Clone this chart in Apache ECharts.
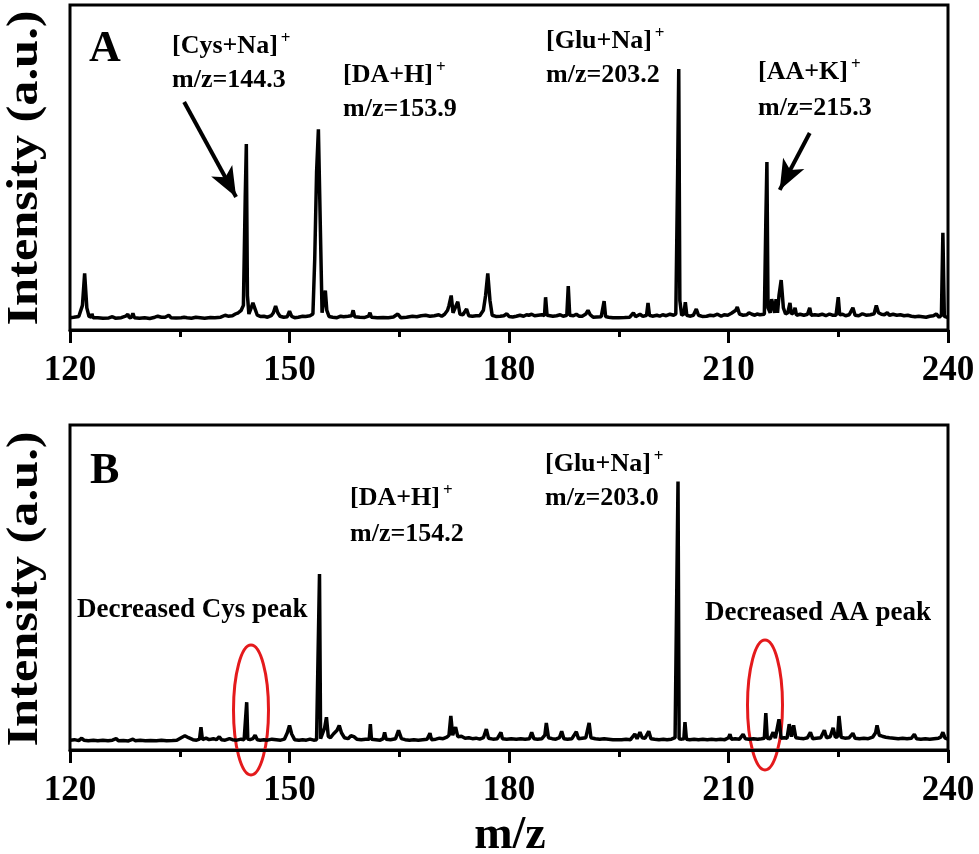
<!DOCTYPE html>
<html>
<head>
<meta charset="utf-8">
<script src="https://cdn.jsdelivr.net/npm/echarts@6/dist/echarts.min.js"></script>
<style>html,body{margin:0;padding:0;background:#fff;}#c{width:979px;height:854px;}</style>
</head>
<body>
<div id="c"></div>
<script>
// m/z tick range
const xMin = 120, xMax = 240, xStep = 30;

// Panel A spectrum: [m/z, intensity (a.u.)]
const spectrumA = [
[120.0,1.0],[120.5,1.2],[121.2,1.5],[121.7,6],[122.0,19],[122.3,5],[122.6,1.5],[122.9,1.2],[123.0,2.6],[123.15,1.0],[123.8,1.0],[124.5,0.8],[125.3,0.9],[125.8,1.4],[126.2,0.8],[127.0,1.0],[127.6,1.6],[127.9,2.4],[128.1,1.0],[128.4,1.2],[128.6,2.8],[128.8,1.0],[129.5,0.8],[130.2,1.0],[130.9,0.7],[131.6,1.2],[132.0,1.6],[132.5,1.2],[133.0,1.2],[133.5,2.0],[133.8,1.0],[134.5,0.9],[135.2,1.0],[135.6,1.2],[136.0,1.0],[136.6,0.8],[137.2,1.2],[137.8,1.0],[138.4,0.8],[139.2,1.1],[139.8,1.0],[140.6,1.2],[141.2,2.0],[141.6,1.6],[142.2,1.8],[142.6,2.5],[143.0,3],[143.4,4],[143.7,6],[143.95,50],[144.1,71.5],[144.25,10],[144.45,2.5],[144.7,4.5],[145.0,7],[145.3,4.5],[145.6,2],[146.0,1.5],[146.5,1.6],[147.0,1.2],[147.5,1.8],[147.8,3],[148.1,5.7],[148.4,3],[148.7,1.6],[149.2,1.2],[149.7,1.4],[150.0,3.7],[150.3,1.5],[150.7,1.0],[151.2,1.2],[151.8,1.6],[152.2,1.5],[152.8,1.8],[153.2,2.5],[153.45,25],[153.7,60],[153.95,77.5],[154.2,40],[154.45,3],[154.7,8],[154.9,12],[155.1,4],[155.4,1.5],[155.9,1.2],[156.5,1.0],[157.0,1.6],[157.4,1.4],[158.0,1.6],[158.5,1.8],[158.7,4],[158.9,1.4],[159.6,1.2],[160.3,1.1],[160.8,1.6],[161.0,3],[161.2,1.2],[162.0,1.0],[162.8,1.1],[163.5,1.0],[164.2,1.3],[164.8,2.5],[165.2,1.0],[166.0,1.2],[166.8,1.6],[167.4,1.4],[168.0,1.8],[168.6,2.0],[169.2,1.6],[169.8,1.8],[170.4,2.2],[170.8,1.6],[171.2,2.4],[171.6,4],[171.8,6],[172.1,10],[172.35,3],[172.6,3.5],[173.0,7.5],[173.3,2.4],[173.7,2.2],[174.2,4.5],[174.5,1.8],[175.0,1.6],[175.5,1.8],[176.0,1.8],[176.5,4],[176.8,10],[177.1,19],[177.4,8],[177.7,2],[178.2,1.5],[178.8,1.6],[179.3,1.8],[179.7,2.6],[180.0,1.5],[180.5,1.3],[181.0,1.6],[181.5,2.0],[182.0,1.6],[182.4,2.2],[182.7,2.0],[183.1,2.4],[183.5,1.8],[184.0,2.0],[184.5,2.2],[184.85,1.8],[185.0,9.3],[185.2,2.0],[185.6,1.8],[186.0,1.6],[186.5,1.8],[187.0,2.2],[187.4,1.6],[187.9,2.0],[188.1,13.8],[188.3,2.0],[188.8,1.8],[189.2,2.4],[189.6,1.6],[190.0,1.6],[190.5,2.5],[190.8,4],[191.1,2.2],[191.5,1.2],[192.0,1.3],[192.6,1.4],[193.0,7.7],[193.2,1.5],[193.6,1.2],[194.2,1.0],[195.0,1.0],[195.8,1.1],[196.5,1.2],[197.0,3],[197.3,1.4],[197.9,2.4],[198.3,1.5],[198.8,2.0],[199.0,7],[199.2,2.0],[199.6,1.6],[200.2,2.0],[200.6,1.6],[201.0,2.2],[201.5,1.8],[202.0,2.4],[202.5,2.0],[202.8,2.5],[203.05,60],[203.2,102],[203.35,8],[203.6,2.0],[203.9,2.5],[204.1,7.3],[204.3,2.0],[204.7,1.6],[205.2,2.0],[205.6,4.5],[205.9,2.0],[206.4,1.5],[207.0,1.6],[207.5,2.0],[208.0,1.8],[208.5,2.4],[209.0,1.6],[209.4,2.2],[209.9,2.0],[210.4,2.8],[211.0,4],[211.2,5.3],[211.5,2.5],[212.0,2.0],[212.5,2.2],[212.8,3],[213.2,2.4],[213.6,2.0],[213.9,2.5],[214.3,2.2],[214.9,2.4],[215.1,40],[215.25,64.2],[215.4,5],[215.7,3],[215.9,8.5],[216.1,8.5],[216.3,3],[216.5,8.5],[216.7,3],[216.9,10],[217.2,16.3],[217.5,5],[217.8,2.5],[218.1,3],[218.4,7],[218.6,2.5],[218.9,3],[219.1,5],[219.3,2.0],[219.8,2.4],[220.3,2.0],[220.8,2.4],[221.1,5],[221.3,2.0],[221.8,2.2],[222.3,2.0],[222.8,2.4],[223.3,1.8],[223.8,2.5],[224.2,2.0],[224.7,2.0],[225.0,9.3],[225.2,2.2],[225.6,2.4],[226.0,1.8],[226.5,2.2],[227.0,5],[227.3,2.0],[227.8,1.8],[228.3,2.6],[228.8,2.0],[229.4,2.2],[229.9,2.6],[230.2,6],[230.5,3],[230.9,2.4],[231.3,2.2],[231.7,3],[232.0,2.0],[232.5,2.4],[233.0,2.0],[233.5,2.2],[234.0,1.8],[234.5,2.0],[235.0,1.6],[235.5,1.4],[236.0,1.6],[236.5,1.4],[237.0,1.2],[237.5,1.6],[238.0,1.8],[238.4,2.5],[238.8,1.2],[239.1,2],[239.3,35.5],[239.5,1.5],[240.0,1.0]
];

// Panel B spectrum: [m/z, intensity (a.u.)]
const spectrumB = [
[120.0,1.0],[120.6,1.2],[121.2,0.8],[121.6,1.8],[121.9,1.0],[122.5,0.8],[123.2,1.0],[123.8,0.8],[124.5,1.0],[125.2,0.8],[125.8,1.0],[126.3,1.6],[126.6,0.8],[127.3,0.9],[128.0,0.7],[128.6,1.4],[128.9,0.8],[129.6,1.0],[130.3,0.8],[131.0,0.9],[131.8,0.8],[132.5,1.0],[133.2,0.8],[134.0,0.9],[134.6,1.0],[135.2,2.0],[135.7,2.8],[136.2,2.0],[136.8,1.2],[137.3,1.0],[137.7,1.4],[137.9,6.3],[138.1,1.2],[138.6,1.8],[139.0,1.2],[139.6,1.6],[140.0,1.2],[140.4,2.4],[140.7,1.2],[141.2,1.0],[141.8,1.6],[142.2,1.2],[142.8,1.0],[143.4,1.4],[143.8,1.2],[144.0,1.6],[144.15,16.4],[144.3,1.4],[144.6,1.2],[145.0,1.6],[145.3,3],[145.6,1.2],[146.0,1.0],[146.5,1.2],[147.0,1.0],[147.6,1.4],[148.2,1.2],[148.8,1.0],[149.3,1.4],[149.7,4],[150.0,7],[150.3,3.5],[150.7,1.2],[151.3,1.0],[151.8,1.2],[152.3,1.0],[152.8,1.4],[153.3,1.0],[153.7,1.2],[153.95,1.4],[154.1,68.5],[154.25,1.6],[154.5,2.4],[154.8,6],[155.05,10.3],[155.3,2.5],[155.6,2.0],[156.0,3.5],[156.5,5],[156.8,7],[157.1,4],[157.5,2.0],[158.0,1.6],[158.4,2.8],[158.8,2.4],[159.2,1.4],[159.8,1.2],[160.4,1.4],[160.9,1.4],[161.05,7.5],[161.2,1.4],[161.8,1.2],[162.4,1.0],[162.8,1.6],[163.0,4.2],[163.2,1.4],[163.8,1.2],[164.5,1.6],[164.9,5],[165.3,1.6],[165.8,1.2],[166.4,1.0],[167.0,1.2],[167.6,1.0],[168.2,1.2],[168.8,1.4],[169.2,3.8],[169.4,1.2],[170.0,1.4],[170.5,1.8],[171.0,1.6],[171.5,2.2],[171.8,3],[172.05,10.8],[172.3,3],[172.7,6.3],[173.0,2.4],[173.5,2.6],[174.0,1.8],[174.5,2.0],[175.0,1.6],[175.5,1.8],[176.0,1.4],[176.5,2.0],[176.9,5.5],[177.2,1.8],[177.8,1.4],[178.4,1.6],[178.9,4.2],[179.1,1.6],[179.7,1.4],[180.3,1.6],[181.0,1.4],[181.6,1.6],[182.2,1.4],[182.8,1.6],[183.1,4.2],[183.4,1.6],[183.9,1.4],[184.5,1.6],[184.9,3],[185.1,8],[185.4,2.0],[185.9,1.6],[186.4,1.4],[186.9,2.0],[187.2,4.6],[187.5,1.6],[188.0,1.4],[188.6,1.6],[189.2,4.4],[189.5,1.6],[190.0,1.8],[190.5,2.0],[190.95,8],[191.2,2.0],[191.8,1.6],[192.4,1.4],[193.0,1.6],[193.6,1.4],[194.2,1.2],[194.8,1.2],[195.4,1.2],[196.0,1.4],[196.6,1.2],[197.2,3.5],[197.5,1.6],[197.9,4.2],[198.2,2.0],[198.6,1.8],[199.1,4.6],[199.4,1.6],[199.9,1.4],[200.5,1.2],[201.1,1.4],[201.6,1.2],[202.2,1.4],[202.7,2.0],[202.95,1.6],[203.1,106],[203.25,1.6],[203.6,1.4],[203.9,1.6],[204.05,8.3],[204.25,1.4],[204.7,1.2],[205.3,1.4],[205.9,1.2],[206.5,1.4],[207.1,1.2],[207.7,1.4],[208.3,1.2],[208.9,1.4],[209.5,1.2],[210.0,2.0],[210.2,3.4],[210.4,1.4],[210.9,1.6],[211.5,1.4],[212.0,3.4],[212.3,1.6],[212.8,1.4],[213.4,1.6],[214.0,1.4],[214.5,1.6],[214.9,1.8],[215.1,12],[215.3,1.8],[215.7,1.6],[216.1,4.2],[216.4,1.8],[216.9,9.5],[217.2,1.8],[217.6,2.0],[218.0,1.8],[218.3,7.5],[218.6,2.4],[218.9,7],[219.2,2.0],[219.7,1.8],[220.3,1.6],[220.8,2.0],[221.2,4.2],[221.5,1.6],[222.0,1.8],[222.6,2.0],[223.1,5],[223.4,2.0],[223.9,2.4],[224.3,6],[224.6,2.2],[224.9,2.4],[225.1,10.8],[225.4,2.2],[225.9,1.8],[226.5,2.0],[227.0,3.8],[227.3,1.8],[227.9,1.6],[228.5,1.8],[229.1,1.6],[229.7,2.2],[230.1,4],[230.3,7],[230.6,3],[231.0,2.6],[231.5,2.2],[232.0,2.0],[232.6,1.8],[233.2,1.6],[233.8,1.8],[234.4,1.6],[235.0,1.8],[235.4,3.4],[235.7,1.6],[236.3,1.4],[236.9,1.6],[237.5,1.4],[238.1,1.6],[238.7,1.8],[239.0,2.2],[239.3,4.2],[239.6,1.8],[240.0,1.4]
];

// Arrows in panel A (data coordinates): [from, to]
const arrowCys = [[135.6, 88.6], [142.7, 50.0]];
const arrowAA = [[221.1, 76.0], [217.0, 52.9]];

// Annotation texts
const panelLetters = ['A', 'B'];
const yTitle = 'Intensity (a.u.)';
const xTitle = 'm/z';
// ion labels: [main text, line-2 text]
const ionsA = [['[Cys+Na]', 'm/z=144.3'], ['[DA+H]', 'm/z=153.9'], ['[Glu+Na]', 'm/z=203.2'], ['[AA+K]', 'm/z=215.3']];
const ionsB = [['[DA+H]', 'm/z=154.2'], ['[Glu+Na]', 'm/z=203.0']];
const notesB = ['Decreased Cys peak', 'Decreased AA peak'];

const SERIF = '"Liberation Serif", "Times New Roman", serif';
const chart = echarts.init(document.getElementById('c'), null, {renderer: 'canvas'});

const mctx = document.createElement('canvas').getContext('2d');
function textW(text, size) {
  mctx.font = 'bold ' + size + 'px ' + SERIF;
  return mctx.measureText(text).width;
}

function xAxisCfg(gi) {
  return {
    type: 'value', gridIndex: gi, min: xMin, max: xMax, interval: xStep,
    axisLine: {show: true, onZero: false, lineStyle: {color: '#000', width: 3}},
    axisTick: {show: true, inside: false, length: 13, lineStyle: {color: '#000', width: 3}},
    minorTick: {show: true, splitNumber: 2, length: 7, lineStyle: {color: '#000', width: 3}},
    splitLine: {show: false},
    axisLabel: {color: '#000', fontFamily: SERIF, fontWeight: 'bold', fontSize: 35, margin: 23}
  };
}
function txt(x, y, text, size, extra) {
  return Object.assign({
    type: 'text', x: x, y: y, silent: true,
    style: {text: text, fill: '#000', font: 'bold ' + size + 'px ' + SERIF, align: 'left', verticalAlign: 'middle'}
  }, extra || {});
}
// ion label with superscript "+"
function ion(x, y1, y2, pair) {
  const w = textW(pair[0], 26);
  return [
    txt(x, y1, pair[0], 26),
    txt(x + w + 3, y1 - 7, '+', 17),
    txt(x, y2, pair[1], 26)
  ];
}
function rotTitle(y) {
  return {
    type: 'text', x: 25, y: y, rotation: Math.PI / 2, scaleX: 1.12, scaleY: 1, silent: true,
    style: {text: yTitle, fill: '#000', font: 'bold 45px ' + SERIF, align: 'center', verticalAlign: 'middle'}
  };
}
function arrowLine(a) {
  return [{coord: a[0]}, {coord: a[1]}];
}

const option = {
  animation: false,
  backgroundColor: '#fff',
  grid: [
    {left: 70, right: 31, top: 5, height: 325, show: true, borderColor: '#000', borderWidth: 3, containLabel: false},
    {left: 70, right: 31, top: 425, height: 325, show: true, borderColor: '#000', borderWidth: 3, containLabel: false}
  ],
  xAxis: [xAxisCfg(0), xAxisCfg(1)],
  yAxis: [
    {type: 'value', gridIndex: 0, min: -4, max: 128, show: false},
    {type: 'value', gridIndex: 1, min: -3, max: 129, show: false}
  ],
  series: [
    {
      type: 'line', xAxisIndex: 0, yAxisIndex: 0, data: spectrumA, symbol: 'none', sampling: null,
      lineStyle: {color: '#000', width: 3.5, join: 'bevel'}, silent: true,
      markLine: {
        silent: true, symbol: ['none', 'arrow'], symbolSize: [18, 30],
        lineStyle: {color: '#000', width: 4, type: 'solid'},
        label: {show: false},
        data: [arrowLine(arrowCys), arrowLine(arrowAA)]
      }
    },
    {
      type: 'line', xAxisIndex: 1, yAxisIndex: 1, data: spectrumB, symbol: 'none', sampling: null,
      lineStyle: {color: '#000', width: 3.5, join: 'bevel'}, silent: true
    }
  ],
  graphic: [].concat(
    [rotTitle(168), rotTitle(589)],
    [txt(510, 836, xTitle, 46, {style: {text: xTitle, fill: '#000', font: 'bold 46px ' + SERIF, align: 'center', verticalAlign: 'middle'}})],
    [txt(89, 50, panelLetters[0], 44), txt(90, 472, panelLetters[1], 44)],
    ion(172, 46, 80, ionsA[0]),
    ion(343, 75, 109, ionsA[1]),
    ion(546, 41, 75, ionsA[2]),
    ion(758, 72, 108, ionsA[3]),
    ion(350, 498, 534, ionsB[0]),
    ion(545, 464, 498, ionsB[1]),
    [txt(77, 610, notesB[0], 27), txt(705, 613, notesB[1], 27)],
    [
      {type: 'ellipse', silent: true, shape: {cx: 251, cy: 710, rx: 17.5, ry: 65}, style: {fill: 'none', stroke: '#e41a1c', lineWidth: 3}},
      {type: 'ellipse', silent: true, shape: {cx: 765, cy: 705, rx: 17.5, ry: 65}, style: {fill: 'none', stroke: '#e41a1c', lineWidth: 3}}
    ]
  )
};
chart.setOption(option);
</script>
</body>
</html>
